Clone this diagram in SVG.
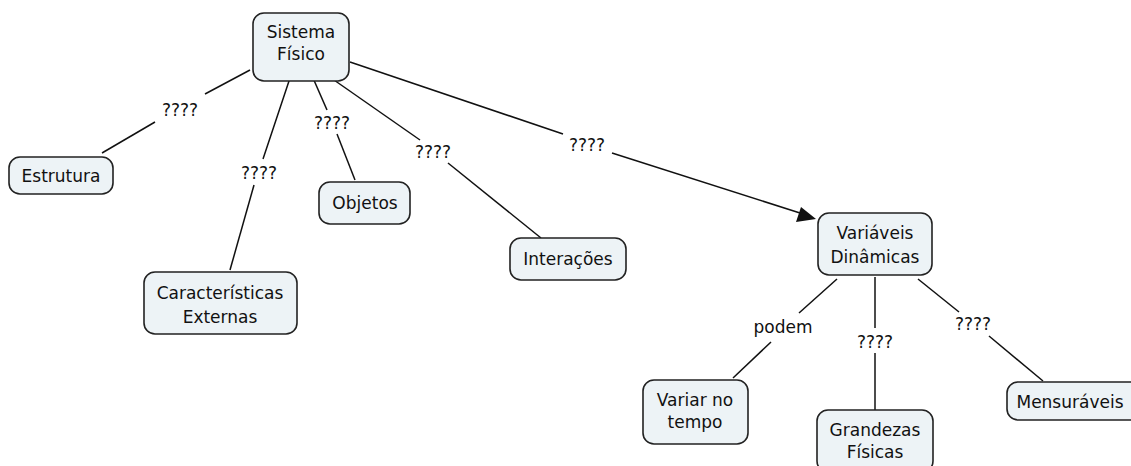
<svg xmlns="http://www.w3.org/2000/svg" width="1131" height="466" viewBox="0 0 1131 466">
<defs>
<style>
.node rect{fill:#edf3f6;stroke:#222;stroke-width:1.6}
text{font-family:"DejaVu Sans","Verdana",sans-serif;font-size:17px;fill:#111;text-anchor:middle}
.conn line{stroke:#111;stroke-width:1.5}
</style>
</defs>
<rect width="1131" height="466" fill="#fff"/>
<g id="connectors" class="conn">
<line x1="250" y1="70" x2="205" y2="94"/>
<line x1="155" y1="122" x2="102" y2="153"/>
<line x1="290" y1="78" x2="263" y2="159"/>
<line x1="254" y1="185" x2="230" y2="270"/>
<line x1="313" y1="78" x2="327" y2="110"/>
<line x1="337" y1="134" x2="355" y2="180"/>
<line x1="334" y1="80" x2="420" y2="140"/>
<line x1="448" y1="163" x2="541" y2="238"/>
<line x1="350" y1="62" x2="563" y2="134"/>
<line x1="612" y1="153" x2="800" y2="213"/>
<polygon points="816,219 796,222 801,207" fill="#111"/>
<line x1="837" y1="279" x2="799" y2="313"/>
<line x1="771" y1="342" x2="733" y2="378"/>
<line x1="875" y1="277" x2="875" y2="328"/>
<line x1="875" y1="353" x2="875" y2="410"/>
<line x1="918" y1="279" x2="959" y2="312"/>
<line x1="989" y1="336" x2="1043" y2="381"/>
<text x="180" y="116">????</text>
<text x="259" y="179">????</text>
<text x="332" y="129">????</text>
<text x="433" y="158">????</text>
<text x="587" y="151">????</text>
<text x="783" y="333">podem</text>
<text x="875" y="348">????</text>
<text x="973" y="330">????</text>
</g>
<g id="sistema" class="node"><rect x="253" y="13" width="96" height="68" rx="11"/><text x="301" y="38">Sistema</text><text x="301" y="60">Físico</text></g>
<g id="estrutura" class="node"><rect x="9" y="157" width="104" height="37" rx="11"/><text x="61" y="182">Estrutura</text></g>
<g id="caracteristicas" class="node"><rect x="144" y="272" width="153" height="62" rx="11"/><text x="220" y="299">Características</text><text x="220" y="323">Externas</text></g>
<g id="objetos" class="node"><rect x="319" y="182" width="91" height="42" rx="11"/><text x="365" y="209">Objetos</text></g>
<g id="interacoes" class="node"><rect x="510" y="238" width="116" height="42" rx="11"/><text x="568" y="265">Interações</text></g>
<g id="variaveis" class="node"><rect x="818" y="213" width="114" height="62" rx="11"/><text x="875" y="239">Variáveis</text><text x="875" y="263">Dinâmicas</text></g>
<g id="variar" class="node"><rect x="643" y="380" width="105" height="64" rx="11"/><text x="695" y="406">Variar no</text><text x="695" y="428">tempo</text></g>
<g id="grandezas" class="node"><rect x="817" y="410" width="116" height="62" rx="11"/><text x="875" y="436">Grandezas</text><text x="875" y="458">Físicas</text></g>
<g id="mensuraveis" class="node"><rect x="1007" y="382" width="134" height="38" rx="11"/><text x="1070" y="408">Mensuráveis</text></g>
</svg>
